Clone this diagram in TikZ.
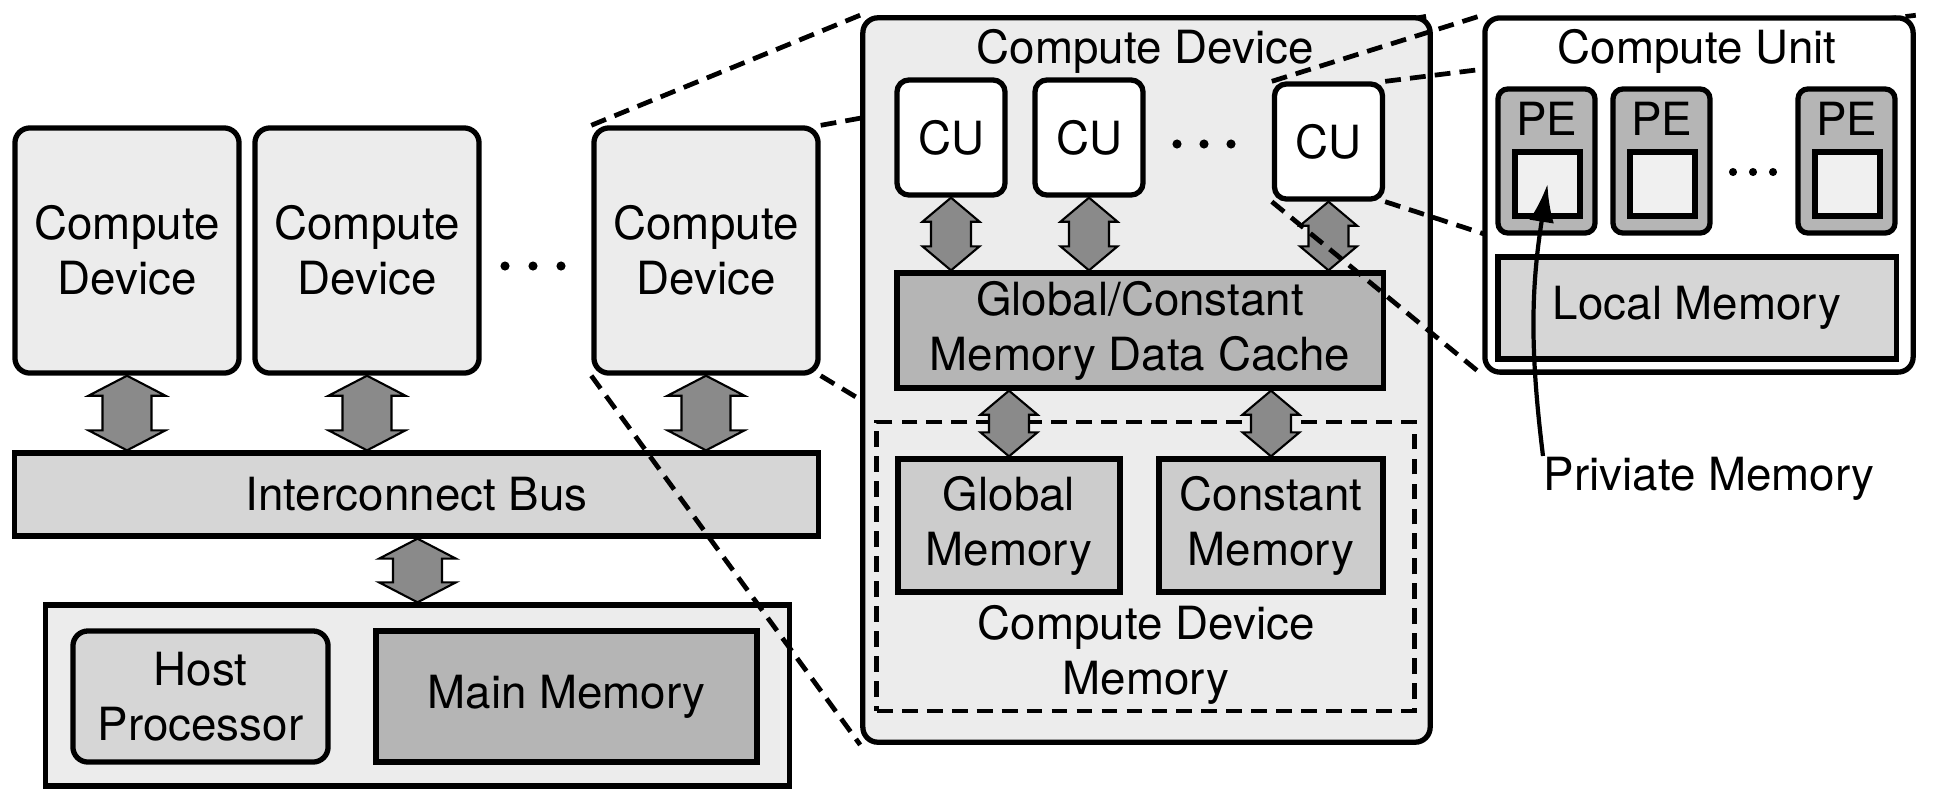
\documentclass[tikz,border=0pt]{standalone}
\usepackage{fontspec}
\setmainfont{TeX Gyre Heros}
\usepackage{tikz}
\usetikzlibrary{calc,arrows.meta}

\newcommand\figfont{\fontsize{13}{15.6}\selectfont}
% block double arrow: head half width, shaft half width, head length, from, to
\newcommand{\dblarrow}[5]{%
\draw[blockarrow] let \p1=(#4), \p2=(#5) in
  (\x1,\y1) -- (\x1+#1,\y1-#3) -- (\x1+#2,\y1-#3) -- (\x1+#2,\y2+#3) -- (\x1+#1,\y2+#3) -- (\x1,\y2)
  -- (\x1-#1,\y2+#3) -- (\x1-#2,\y2+#3) -- (\x1-#2,\y1-#3) -- (\x1-#1,\y1-#3) -- cycle;}

\pgfdeclarelayer{mid}
\pgfdeclarelayer{front}
\pgfsetlayers{main,mid,front}

\tikzset{
  box/.style={draw, line width=1.5pt, align=center, inner sep=0pt, font=\figfont},
  devbox/.style={box, fill=gray!15, rounded corners=1.5mm, minimum width=2.24cm, minimum height=2.45cm},
  busbox/.style={box, fill=gray!32, minimum width=8.03cm, minimum height=0.83cm},
  hostbox/.style={box, fill=gray!15, minimum width=7.43cm, minimum height=1.81cm},
  cubox/.style={box, fill=white, rounded corners=1.2mm, minimum width=1.08cm, minimum height=1.15cm},
  pebox/.style={box, fill=gray!58, rounded corners=1mm, minimum width=0.97cm, minimum height=1.44cm},
  pvbox/.style={box, line width=1.7pt, fill=gray!12, minimum width=0.65cm, minimum height=0.64cm},
  txt/.style={inner sep=0pt, font=\figfont},
  blockarrow/.style={draw, line width=0.6pt, fill=gray!92},
  zoomline/.style={line width=1.35pt, dash pattern=on 4.5pt off 2.6pt},
  hidden/.style={shorten >=1.6mm},
  pmarrow/.style={line width=1.2pt, -{Latex[length=3.8mm,width=2.5mm]}}
}

\begin{document}
\begin{tikzpicture}[x=0.01cm, y=-0.01cm]
\useasboundingbox (0,0) rectangle (1939,802);

% host side
\foreach \x [count=\i] in {127,367,706}
  \node[devbox] (cd\i) at (\x,250.5) {Compute\\Device};
\foreach \x in {505,533,561}
  \fill (\x,266) circle (1.3pt);
\node[busbox] (bus) at (416.5,494.5) {Interconnect Bus};
\node[hostbox] (host) at (417.5,695.5) {};
\node[box, fill=gray!32, rounded corners=1.5mm, minimum width=2.55cm, minimum height=1.31cm] (hproc) at (200.5,696.5) {Host\\Processor};
\node[box, fill=gray!58, minimum width=3.81cm, minimum height=1.31cm] (mmem) at (566.5,696.5) {Main Memory};
\foreach \i in {1,2,3} {
  \dblarrow{3.85mm}{2.45mm}{2mm}{cd\i.south}{cd\i.south |- bus.north}
}
\dblarrow{3.85mm}{2.45mm}{2mm}{host.north |- bus.south}{host.north}

% compute device
\begin{pgfonlayer}{mid}
\node[box, fill=gray!15, rounded corners=1.5mm, minimum width=5.67cm, minimum height=7.24cm] (cdbig) at (1146.5,380) {};
\node[txt, anchor=base] (cdtitle) at (1145,63) {Compute Device};
\foreach \x/\y [count=\i] in {951/137.5,1089/137.5,1328.5/141.5}
  \node[cubox] (cu\i) at (\x,\y) {CU};
\foreach \x in {1177,1204,1231}
  \fill (\x,144) circle (1.3pt);
\node[box, fill=gray!58, minimum width=4.86cm, minimum height=1.15cm] (cache) at (1140,330.5) {Global/Constant\\Memory Data Cache};
\node[draw, line width=1.35pt, dash pattern=on 4.5pt off 2.6pt, minimum width=5.37cm, minimum height=2.89cm] (cdmem) at (1145.5,566.5) {};
\node[box, fill=gray!40, minimum width=2.22cm, minimum height=1.33cm] (gmem) at (1009,525.5) {Global\\Memory};
\node[box, fill=gray!40, minimum width=2.24cm, minimum height=1.33cm] (cmem) at (1271,525.5) {Constant\\Memory};
\node[txt, align=center] (cdmemtxt) at (1146,655) {Compute Device\\Memory};
\foreach \i in {1,2,3} {
  \dblarrow{2.85mm}{2mm}{2.4mm}{cu\i.south}{cu\i.south |- cache.north}
}
\dblarrow{2.85mm}{2mm}{2.4mm}{gmem.north |- cache.south}{gmem.north}
\dblarrow{2.85mm}{2mm}{2.4mm}{cmem.north |- cache.south}{cmem.north}
\end{pgfonlayer}

% compute unit
\begin{pgfonlayer}{front}
\node[box, fill=white, rounded corners=1.5mm, minimum width=4.28cm, minimum height=3.54cm] (cubig) at (1699,195) {};
\node[txt, anchor=base] (cutitle) at (1697,63) {Compute Unit};
\foreach \x [count=\i] in {1546.5,1661.5,1846.5} {
  \node[pebox] (pe\i) at (\x,161) {};
  \node[txt, anchor=base] (pet\i) at (\x,135) {PE};
  \node[pvbox] (pv\i) at (\x+1,184) {};
}
\foreach \x in {1733,1753,1773}
  \fill (\x,172) circle (1.15pt);
\node[box, fill=gray!32, minimum width=3.98cm, minimum height=1.02cm] (lmem) at (1697,308) {Local Memory};
\node[txt, anchor=base west] (pmem) at (1543,490) {Priviate Memory};
\draw[pmarrow] (pmem.north west) to[bend left=8] (pv1.center);
\end{pgfonlayer}

% zoom lines
\draw[zoomline] (cd3.north west) -- (cdbig.north west) (cd3.south west) -- (cdbig.south west);
\draw[zoomline, hidden] (cd3.north east) -- (cdbig.north east) (cd3.south east) -- (cdbig.south east);
\begin{pgfonlayer}{mid}
\draw[zoomline] (cu3.north west) -- (cubig.north west) (cu3.south west) -- (cubig.south west);
\draw[zoomline, hidden] (cu3.north east) -- (cubig.north east) (cu3.south east) -- (cubig.south east);
\end{pgfonlayer}
\end{tikzpicture}
\end{document}
